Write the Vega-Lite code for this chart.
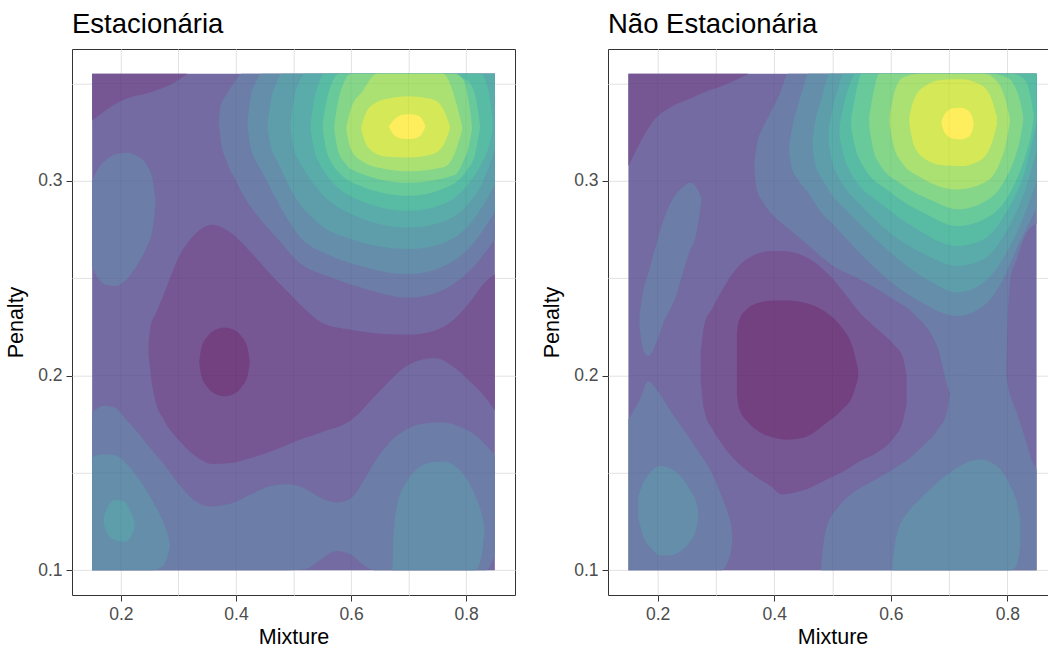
{
"$schema":"https://vega.github.io/schema/vega-lite/v6.json",
"background":"white",
"padding":{"left":5,"top":10,"right":0,"bottom":0},
"config":{"font":"Liberation Sans","view":{"stroke":"#333333","strokeWidth":1},
"axis":{"domain":false,"grid":true,"gridColor":"#ebebeb","gridWidth":1,"tickColor":"#333333","tickSize":6,"tickWidth":1,"labelColor":"#4d4d4d","labelFontSize":17.5,"labelFont":"Liberation Sans","labelPadding":4,"titleFont":"Liberation Sans","titleFontSize":21.5,"titleFontWeight":"normal","titleColor":"#000000"},
"axisX":{"titlePadding":4},"axisY":{"titlePadding":10}},
"spacing":93,
"bounds":"flush",
"datasets":{
"gx":[{"v":0.2},{"v":0.3},{"v":0.4},{"v":0.5},{"v":0.6},{"v":0.7},{"v":0.8}],
"gy":[{"v":0.1},{"v":0.15},{"v":0.2},{"v":0.25},{"v":0.3},{"v":0.35}],
"E":[
{"g":"e3","z":3,"x":0.15,"lo":0.1,"hi":0.355},{"g":"e3","z":3,"x":0.85,"lo":0.1,"hi":0.355},
{"g":"e2a","z":2,"x":0.15,"lo":0.331,"hi":0.355},{"g":"e2a","z":2,"x":0.2,"lo":0.341,"hi":0.355},{"g":"e2a","z":2,"x":0.257,"lo":0.346,"hi":0.355},{"g":"e2a","z":2,"x":0.29,"lo":0.35,"hi":0.355},{"g":"e2a","z":2,"x":0.315,"lo":0.355,"hi":0.355},
{"g":"e2b","z":2,"x":0.248,"lo":0.212,"hi":0.216},{"g":"e2b","z":2,"x":0.252,"lo":0.2,"hi":0.226},{"g":"e2b","z":2,"x":0.26,"lo":0.187,"hi":0.2315},{"g":"e2b","z":2,"x":0.275,"lo":0.177,"hi":0.242},{"g":"e2b","z":2,"x":0.3,"lo":0.167,"hi":0.2605},{"g":"e2b","z":2,"x":0.33,"lo":0.1585,"hi":0.273},{"g":"e2b","z":2,"x":0.36,"lo":0.1545,"hi":0.2775},{"g":"e2b","z":2,"x":0.39,"lo":0.155,"hi":0.2735},{"g":"e2b","z":2,"x":0.43,"lo":0.158,"hi":0.262},{"g":"e2b","z":2,"x":0.46,"lo":0.161,"hi":0.252},{"g":"e2b","z":2,"x":0.49,"lo":0.1645,"hi":0.243},{"g":"e2b","z":2,"x":0.52,"lo":0.168,"hi":0.234},{"g":"e2b","z":2,"x":0.55,"lo":0.171,"hi":0.227},{"g":"e2b","z":2,"x":0.6,"lo":0.177,"hi":0.2235},{"g":"e2b","z":2,"x":0.65,"lo":0.192,"hi":0.2215},{"g":"e2b","z":2,"x":0.7,"lo":0.2055,"hi":0.221},{"g":"e2b","z":2,"x":0.745,"lo":0.209,"hi":0.223},{"g":"e2b","z":2,"x":0.78,"lo":0.204,"hi":0.229},{"g":"e2b","z":2,"x":0.81,"lo":0.196,"hi":0.239},{"g":"e2b","z":2,"x":0.83,"lo":0.19,"hi":0.247},{"g":"e2b","z":2,"x":0.85,"lo":0.182,"hi":0.252},
{"g":"e1","z":1,"x":0.336,"lo":0.207,"hi":0.207},{"g":"e1","z":1,"x":0.34,"lo":0.1996,"hi":0.2144},{"g":"e1","z":1,"x":0.35,"lo":0.1941,"hi":0.2199},{"g":"e1","z":1,"x":0.365,"lo":0.1904,"hi":0.2236},{"g":"e1","z":1,"x":0.38,"lo":0.1893,"hi":0.2247},{"g":"e1","z":1,"x":0.395,"lo":0.1904,"hi":0.2236},{"g":"e1","z":1,"x":0.41,"lo":0.1941,"hi":0.2199},{"g":"e1","z":1,"x":0.42,"lo":0.1996,"hi":0.2144},{"g":"e1","z":1,"x":0.424,"lo":0.207,"hi":0.207},
{"g":"e4a","z":4,"x":0.15,"lo":0.256,"hi":0.3},{"g":"e4a","z":4,"x":0.16,"lo":0.25,"hi":0.306},{"g":"e4a","z":4,"x":0.175,"lo":0.2465,"hi":0.311},{"g":"e4a","z":4,"x":0.19,"lo":0.246,"hi":0.3135},{"g":"e4a","z":4,"x":0.21,"lo":0.2495,"hi":0.3145},{"g":"e4a","z":4,"x":0.23,"lo":0.2575,"hi":0.3125},{"g":"e4a","z":4,"x":0.245,"lo":0.266,"hi":0.308},{"g":"e4a","z":4,"x":0.255,"lo":0.275,"hi":0.301},{"g":"e4a","z":4,"x":0.26,"lo":0.288,"hi":0.29},
{"g":"e4b","z":4,"x":0.37,"lo":0.33,"hi":0.33},{"g":"e4b","z":4,"x":0.373,"lo":0.322,"hi":0.338},{"g":"e4b","z":4,"x":0.385,"lo":0.309,"hi":0.345},{"g":"e4b","z":4,"x":0.4,"lo":0.3,"hi":0.352},{"g":"e4b","z":4,"x":0.41,"lo":0.294,"hi":0.355},{"g":"e4b","z":4,"x":0.44,"lo":0.281,"hi":0.355},{"g":"e4b","z":4,"x":0.47,"lo":0.271,"hi":0.355},{"g":"e4b","z":4,"x":0.51,"lo":0.258,"hi":0.355},{"g":"e4b","z":4,"x":0.56,"lo":0.251,"hi":0.355},{"g":"e4b","z":4,"x":0.62,"lo":0.245,"hi":0.355},{"g":"e4b","z":4,"x":0.7,"lo":0.24,"hi":0.355},{"g":"e4b","z":4,"x":0.76,"lo":0.244,"hi":0.355},{"g":"e4b","z":4,"x":0.81,"lo":0.255,"hi":0.355},{"g":"e4b","z":4,"x":0.85,"lo":0.27,"hi":0.355},
{"g":"e4c","z":4,"x":0.15,"lo":0.1,"hi":0.181},{"g":"e4c","z":4,"x":0.17,"lo":0.1,"hi":0.1845},{"g":"e4c","z":4,"x":0.19,"lo":0.1,"hi":0.1835},{"g":"e4c","z":4,"x":0.21,"lo":0.1,"hi":0.177},{"g":"e4c","z":4,"x":0.23,"lo":0.1,"hi":0.1705},{"g":"e4c","z":4,"x":0.25,"lo":0.1,"hi":0.163},{"g":"e4c","z":4,"x":0.275,"lo":0.1,"hi":0.1543},{"g":"e4c","z":4,"x":0.3,"lo":0.1,"hi":0.1445},{"g":"e4c","z":4,"x":0.325,"lo":0.1,"hi":0.1365},{"g":"e4c","z":4,"x":0.355,"lo":0.1,"hi":0.1327},{"g":"e4c","z":4,"x":0.38,"lo":0.1,"hi":0.1335},{"g":"e4c","z":4,"x":0.4,"lo":0.1,"hi":0.1352},{"g":"e4c","z":4,"x":0.43,"lo":0.1,"hi":0.1395},{"g":"e4c","z":4,"x":0.46,"lo":0.1,"hi":0.1432},{"g":"e4c","z":4,"x":0.49,"lo":0.1,"hi":0.1442},{"g":"e4c","z":4,"x":0.52,"lo":0.1005,"hi":0.142},{"g":"e4c","z":4,"x":0.545,"lo":0.105,"hi":0.1375},{"g":"e4c","z":4,"x":0.575,"lo":0.1098,"hi":0.1348},{"g":"e4c","z":4,"x":0.6,"lo":0.108,"hi":0.137},{"g":"e4c","z":4,"x":0.62,"lo":0.103,"hi":0.145},{"g":"e4c","z":4,"x":0.64,"lo":0.1,"hi":0.155},{"g":"e4c","z":4,"x":0.665,"lo":0.1,"hi":0.165},{"g":"e4c","z":4,"x":0.69,"lo":0.1,"hi":0.1712},{"g":"e4c","z":4,"x":0.72,"lo":0.1,"hi":0.175},{"g":"e4c","z":4,"x":0.76,"lo":0.1,"hi":0.176},{"g":"e4c","z":4,"x":0.79,"lo":0.1,"hi":0.1735},{"g":"e4c","z":4,"x":0.82,"lo":0.1,"hi":0.1685},{"g":"e4c","z":4,"x":0.835,"lo":0.1,"hi":0.164},{"g":"e4c","z":4,"x":0.85,"lo":0.108,"hi":0.159},
{"g":"e5a","z":5,"x":0.42,"lo":0.328,"hi":0.33},{"g":"e5a","z":5,"x":0.425,"lo":0.318,"hi":0.342},{"g":"e5a","z":5,"x":0.435,"lo":0.31,"hi":0.351},{"g":"e5a","z":5,"x":0.445,"lo":0.305,"hi":0.355},{"g":"e5a","z":5,"x":0.47,"lo":0.2905,"hi":0.355},{"g":"e5a","z":5,"x":0.51,"lo":0.2715,"hi":0.355},{"g":"e5a","z":5,"x":0.56,"lo":0.262,"hi":0.355},{"g":"e5a","z":5,"x":0.62,"lo":0.256,"hi":0.355},{"g":"e5a","z":5,"x":0.7,"lo":0.252,"hi":0.355},{"g":"e5a","z":5,"x":0.76,"lo":0.256,"hi":0.355},{"g":"e5a","z":5,"x":0.81,"lo":0.267,"hi":0.355},{"g":"e5a","z":5,"x":0.85,"lo":0.284,"hi":0.355},
{"g":"e5b","z":5,"x":0.15,"lo":0.1,"hi":0.158},{"g":"e5b","z":5,"x":0.17,"lo":0.1,"hi":0.1595},{"g":"e5b","z":5,"x":0.19,"lo":0.1,"hi":0.159},{"g":"e5b","z":5,"x":0.21,"lo":0.1,"hi":0.1545},{"g":"e5b","z":5,"x":0.235,"lo":0.1,"hi":0.145},{"g":"e5b","z":5,"x":0.255,"lo":0.1,"hi":0.1355},{"g":"e5b","z":5,"x":0.27,"lo":0.1015,"hi":0.127},{"g":"e5b","z":5,"x":0.28,"lo":0.106,"hi":0.1195},{"g":"e5b","z":5,"x":0.285,"lo":0.112,"hi":0.1135},
{"g":"e5c","z":5,"x":0.672,"lo":0.1,"hi":0.1},{"g":"e5c","z":5,"x":0.674,"lo":0.1,"hi":0.118},{"g":"e5c","z":5,"x":0.68,"lo":0.1,"hi":0.133},{"g":"e5c","z":5,"x":0.695,"lo":0.1,"hi":0.1445},{"g":"e5c","z":5,"x":0.715,"lo":0.1,"hi":0.152},{"g":"e5c","z":5,"x":0.74,"lo":0.1,"hi":0.1555},{"g":"e5c","z":5,"x":0.76,"lo":0.1,"hi":0.1558},{"g":"e5c","z":5,"x":0.785,"lo":0.1,"hi":0.1525},{"g":"e5c","z":5,"x":0.805,"lo":0.1,"hi":0.145},{"g":"e5c","z":5,"x":0.816,"lo":0.1,"hi":0.138},{"g":"e5c","z":5,"x":0.826,"lo":0.106,"hi":0.13},{"g":"e5c","z":5,"x":0.832,"lo":0.12,"hi":0.122},
{"g":"e6a","z":6,"x":0.455,"lo":0.327,"hi":0.329},{"g":"e6a","z":6,"x":0.46,"lo":0.318,"hi":0.34},{"g":"e6a","z":6,"x":0.47,"lo":0.311,"hi":0.35},{"g":"e6a","z":6,"x":0.48,"lo":0.305,"hi":0.355},{"g":"e6a","z":6,"x":0.5,"lo":0.293,"hi":0.355},{"g":"e6a","z":6,"x":0.54,"lo":0.279,"hi":0.355},{"g":"e6a","z":6,"x":0.6,"lo":0.27,"hi":0.355},{"g":"e6a","z":6,"x":0.7,"lo":0.265,"hi":0.355},{"g":"e6a","z":6,"x":0.76,"lo":0.268,"hi":0.355},{"g":"e6a","z":6,"x":0.81,"lo":0.279,"hi":0.355},{"g":"e6a","z":6,"x":0.85,"lo":0.298,"hi":0.355},
{"g":"e6b","z":6,"x":0.17,"lo":0.124,"hi":0.127},{"g":"e6b","z":6,"x":0.178,"lo":0.118,"hi":0.133},{"g":"e6b","z":6,"x":0.19,"lo":0.1155,"hi":0.136},{"g":"e6b","z":6,"x":0.205,"lo":0.1145,"hi":0.1355},{"g":"e6b","z":6,"x":0.215,"lo":0.116,"hi":0.131},{"g":"e6b","z":6,"x":0.224,"lo":0.122,"hi":0.125},
{"g":"e7","z":7,"x":0.495,"lo":0.326,"hi":0.33},{"g":"e7","z":7,"x":0.5,"lo":0.317,"hi":0.341},{"g":"e7","z":7,"x":0.51,"lo":0.31,"hi":0.351},{"g":"e7","z":7,"x":0.52,"lo":0.305,"hi":0.355},{"g":"e7","z":7,"x":0.55,"lo":0.293,"hi":0.355},{"g":"e7","z":7,"x":0.6,"lo":0.283,"hi":0.355},{"g":"e7","z":7,"x":0.7,"lo":0.276,"hi":0.355},{"g":"e7","z":7,"x":0.76,"lo":0.279,"hi":0.355},{"g":"e7","z":7,"x":0.8,"lo":0.287,"hi":0.355},{"g":"e7","z":7,"x":0.83,"lo":0.3,"hi":0.355},{"g":"e7","z":7,"x":0.85,"lo":0.316,"hi":0.355},
{"g":"e8","z":8,"x":0.53,"lo":0.326,"hi":0.33},{"g":"e8","z":8,"x":0.535,"lo":0.317,"hi":0.34},{"g":"e8","z":8,"x":0.545,"lo":0.309,"hi":0.351},{"g":"e8","z":8,"x":0.555,"lo":0.304,"hi":0.355},{"g":"e8","z":8,"x":0.6,"lo":0.292,"hi":0.355},{"g":"e8","z":8,"x":0.7,"lo":0.2846,"hi":0.355},{"g":"e8","z":8,"x":0.76,"lo":0.288,"hi":0.355},{"g":"e8","z":8,"x":0.8,"lo":0.297,"hi":0.355},{"g":"e8","z":8,"x":0.825,"lo":0.308,"hi":0.355},{"g":"e8","z":8,"x":0.84,"lo":0.318,"hi":0.345},{"g":"e8","z":8,"x":0.846,"lo":0.326,"hi":0.332},
{"g":"e9","z":9,"x":0.551,"lo":0.326,"hi":0.33},{"g":"e9","z":9,"x":0.556,"lo":0.317,"hi":0.339},{"g":"e9","z":9,"x":0.565,"lo":0.31,"hi":0.349},{"g":"e9","z":9,"x":0.58,"lo":0.304,"hi":0.355},{"g":"e9","z":9,"x":0.62,"lo":0.297,"hi":0.355},{"g":"e9","z":9,"x":0.7,"lo":0.2923,"hi":0.355},{"g":"e9","z":9,"x":0.76,"lo":0.296,"hi":0.355},{"g":"e9","z":9,"x":0.8,"lo":0.305,"hi":0.352},{"g":"e9","z":9,"x":0.815,"lo":0.313,"hi":0.345},{"g":"e9","z":9,"x":0.824,"lo":0.327,"hi":0.329},
{"g":"e10","z":10,"x":0.571,"lo":0.326,"hi":0.329},{"g":"e10","z":10,"x":0.577,"lo":0.316,"hi":0.34},{"g":"e10","z":10,"x":0.59,"lo":0.309,"hi":0.352},{"g":"e10","z":10,"x":0.6,"lo":0.306,"hi":0.355},{"g":"e10","z":10,"x":0.7,"lo":0.299,"hi":0.355},{"g":"e10","z":10,"x":0.78,"lo":0.303,"hi":0.355},{"g":"e10","z":10,"x":0.795,"lo":0.31,"hi":0.352},{"g":"e10","z":10,"x":0.805,"lo":0.318,"hi":0.34},{"g":"e10","z":10,"x":0.81,"lo":0.326,"hi":0.329},
{"g":"e11","z":11,"x":0.592,"lo":0.326,"hi":0.328},{"g":"e11","z":11,"x":0.6,"lo":0.316,"hi":0.337},{"g":"e11","z":11,"x":0.62,"lo":0.31,"hi":0.346},{"g":"e11","z":11,"x":0.645,"lo":0.307,"hi":0.355},{"g":"e11","z":11,"x":0.7,"lo":0.305,"hi":0.355},{"g":"e11","z":11,"x":0.76,"lo":0.307,"hi":0.355},{"g":"e11","z":11,"x":0.78,"lo":0.314,"hi":0.343},{"g":"e11","z":11,"x":0.793,"lo":0.326,"hi":0.328},
{"g":"e12","z":12,"x":0.618,"lo":0.326,"hi":0.328},{"g":"e12","z":12,"x":0.63,"lo":0.317,"hi":0.337},{"g":"e12","z":12,"x":0.66,"lo":0.3125,"hi":0.342},{"g":"e12","z":12,"x":0.7,"lo":0.312,"hi":0.3435},{"g":"e12","z":12,"x":0.74,"lo":0.3135,"hi":0.342},{"g":"e12","z":12,"x":0.76,"lo":0.318,"hi":0.337},{"g":"e12","z":12,"x":0.772,"lo":0.327,"hi":0.328},
{"g":"e13","z":13,"x":0.666,"lo":0.3275,"hi":0.328},{"g":"e13","z":13,"x":0.675,"lo":0.3235,"hi":0.3315},{"g":"e13","z":13,"x":0.69,"lo":0.3217,"hi":0.334},{"g":"e13","z":13,"x":0.705,"lo":0.3215,"hi":0.3342},{"g":"e13","z":13,"x":0.72,"lo":0.323,"hi":0.333},{"g":"e13","z":13,"x":0.729,"lo":0.3275,"hi":0.3285}
],
"N":[
{"g":"n3","z":3,"x":0.15,"lo":0.1,"hi":0.355},{"g":"n3","z":3,"x":0.85,"lo":0.1,"hi":0.355},
{"g":"n2a","z":2,"x":0.15,"lo":0.3076,"hi":0.355},{"g":"n2a","z":2,"x":0.156,"lo":0.3113,"hi":0.355},{"g":"n2a","z":2,"x":0.173,"lo":0.3213,"hi":0.355},{"g":"n2a","z":2,"x":0.195,"lo":0.3316,"hi":0.355},{"g":"n2a","z":2,"x":0.22,"lo":0.3375,"hi":0.355},{"g":"n2a","z":2,"x":0.253,"lo":0.3419,"hi":0.355},{"g":"n2a","z":2,"x":0.28,"lo":0.3455,"hi":0.355},{"g":"n2a","z":2,"x":0.31,"lo":0.3487,"hi":0.355},{"g":"n2a","z":2,"x":0.335,"lo":0.352,"hi":0.355},{"g":"n2a","z":2,"x":0.356,"lo":0.355,"hi":0.355},
{"g":"n2b","z":2,"x":0.274,"lo":0.198,"hi":0.212},{"g":"n2b","z":2,"x":0.28,"lo":0.182,"hi":0.226},{"g":"n2b","z":2,"x":0.295,"lo":0.172,"hi":0.235},{"g":"n2b","z":2,"x":0.31,"lo":0.165,"hi":0.2435},{"g":"n2b","z":2,"x":0.34,"lo":0.1545,"hi":0.2565},{"g":"n2b","z":2,"x":0.367,"lo":0.1483,"hi":0.262},{"g":"n2b","z":2,"x":0.395,"lo":0.143,"hi":0.264},{"g":"n2b","z":2,"x":0.413,"lo":0.1389,"hi":0.264},{"g":"n2b","z":2,"x":0.45,"lo":0.141,"hi":0.2615},{"g":"n2b","z":2,"x":0.49,"lo":0.1466,"hi":0.2529},{"g":"n2b","z":2,"x":0.52,"lo":0.151,"hi":0.2425},{"g":"n2b","z":2,"x":0.547,"lo":0.156,"hi":0.2322},{"g":"n2b","z":2,"x":0.576,"lo":0.1603,"hi":0.224},{"g":"n2b","z":2,"x":0.605,"lo":0.168,"hi":0.216},{"g":"n2b","z":2,"x":0.62,"lo":0.176,"hi":0.21},{"g":"n2b","z":2,"x":0.627,"lo":0.185,"hi":0.2},
{"g":"n1","z":1,"x":0.336,"lo":0.19,"hi":0.222},{"g":"n1","z":1,"x":0.34,"lo":0.183,"hi":0.2285},{"g":"n1","z":1,"x":0.355,"lo":0.176,"hi":0.2345},{"g":"n1","z":1,"x":0.375,"lo":0.171,"hi":0.2375},{"g":"n1","z":1,"x":0.4,"lo":0.168,"hi":0.2385},{"g":"n1","z":1,"x":0.42,"lo":0.167,"hi":0.2385},{"g":"n1","z":1,"x":0.45,"lo":0.168,"hi":0.2375},{"g":"n1","z":1,"x":0.49,"lo":0.1757,"hi":0.2322},{"g":"n1","z":1,"x":0.515,"lo":0.182,"hi":0.225},{"g":"n1","z":1,"x":0.535,"lo":0.19,"hi":0.214},{"g":"n1","z":1,"x":0.544,"lo":0.199,"hi":0.203},
{"g":"n4a","z":4,"x":0.366,"lo":0.306,"hi":0.309},{"g":"n4a","z":4,"x":0.37,"lo":0.296,"hi":0.318},{"g":"n4a","z":4,"x":0.38,"lo":0.2895,"hi":0.327},{"g":"n4a","z":4,"x":0.39,"lo":0.285,"hi":0.333},{"g":"n4a","z":4,"x":0.41,"lo":0.279,"hi":0.345},{"g":"n4a","z":4,"x":0.424,"lo":0.2755,"hi":0.355},{"g":"n4a","z":4,"x":0.46,"lo":0.2665,"hi":0.355},{"g":"n4a","z":4,"x":0.5,"lo":0.2565,"hi":0.355},{"g":"n4a","z":4,"x":0.55,"lo":0.249,"hi":0.355},{"g":"n4a","z":4,"x":0.6,"lo":0.24,"hi":0.355},{"g":"n4a","z":4,"x":0.64,"lo":0.2315,"hi":0.355},{"g":"n4a","z":4,"x":0.68,"lo":0.2145,"hi":0.355},{"g":"n4a","z":4,"x":0.705,"lo":0.19,"hi":0.355},{"g":"n4a","z":4,"x":0.75,"lo":0.19,"hi":0.355},{"g":"n4a","z":4,"x":0.797,"lo":0.195,"hi":0.355},{"g":"n4a","z":4,"x":0.8,"lo":0.225,"hi":0.355},{"g":"n4a","z":4,"x":0.805,"lo":0.25,"hi":0.355},{"g":"n4a","z":4,"x":0.815,"lo":0.259,"hi":0.355},{"g":"n4a","z":4,"x":0.833,"lo":0.2734,"hi":0.355},{"g":"n4a","z":4,"x":0.85,"lo":0.278,"hi":0.355},
{"g":"n4b","z":4,"x":0.48,"lo":0.1,"hi":0.1},{"g":"n4b","z":4,"x":0.483,"lo":0.1,"hi":0.11},{"g":"n4b","z":4,"x":0.49,"lo":0.1,"hi":0.122},{"g":"n4b","z":4,"x":0.51,"lo":0.1,"hi":0.1325},{"g":"n4b","z":4,"x":0.536,"lo":0.1,"hi":0.14},{"g":"n4b","z":4,"x":0.57,"lo":0.1,"hi":0.146},{"g":"n4b","z":4,"x":0.604,"lo":0.1,"hi":0.152},{"g":"n4b","z":4,"x":0.63,"lo":0.1,"hi":0.157},{"g":"n4b","z":4,"x":0.656,"lo":0.1,"hi":0.164},{"g":"n4b","z":4,"x":0.68,"lo":0.1,"hi":0.172},{"g":"n4b","z":4,"x":0.696,"lo":0.1,"hi":0.181},{"g":"n4b","z":4,"x":0.705,"lo":0.1,"hi":0.195},{"g":"n4b","z":4,"x":0.75,"lo":0.1,"hi":0.2},{"g":"n4b","z":4,"x":0.797,"lo":0.1,"hi":0.2},{"g":"n4b","z":4,"x":0.802,"lo":0.1,"hi":0.193},{"g":"n4b","z":4,"x":0.816,"lo":0.1,"hi":0.181},{"g":"n4b","z":4,"x":0.83,"lo":0.1,"hi":0.168},{"g":"n4b","z":4,"x":0.844,"lo":0.1,"hi":0.155},{"g":"n4b","z":4,"x":0.85,"lo":0.1,"hi":0.152},
{"g":"n4c","z":4,"x":0.169,"lo":0.225,"hi":0.231},{"g":"n4c","z":4,"x":0.1754,"lo":0.2134,"hi":0.2435},{"g":"n4c","z":4,"x":0.184,"lo":0.21,"hi":0.2525},{"g":"n4c","z":4,"x":0.1954,"lo":0.2151,"hi":0.2648},{"g":"n4c","z":4,"x":0.2126,"lo":0.229,"hi":0.2819},{"g":"n4c","z":4,"x":0.2297,"lo":0.2392,"hi":0.2925},{"g":"n4c","z":4,"x":0.2469,"lo":0.2563,"hi":0.2975},{"g":"n4c","z":4,"x":0.2554,"lo":0.264,"hi":0.299},{"g":"n4c","z":4,"x":0.2669,"lo":0.2734,"hi":0.2965},{"g":"n4c","z":4,"x":0.2755,"lo":0.2905,"hi":0.291},
{"g":"n4d","z":4,"x":0.15,"lo":0.1,"hi":0.1775},{"g":"n4d","z":4,"x":0.17,"lo":0.1,"hi":0.188},{"g":"n4d","z":4,"x":0.184,"lo":0.1,"hi":0.197},{"g":"n4d","z":4,"x":0.2,"lo":0.1,"hi":0.192},{"g":"n4d","z":4,"x":0.224,"lo":0.1,"hi":0.181},{"g":"n4d","z":4,"x":0.245,"lo":0.1,"hi":0.172},{"g":"n4d","z":4,"x":0.264,"lo":0.1,"hi":0.1637},{"g":"n4d","z":4,"x":0.2983,"lo":0.1,"hi":0.1466},{"g":"n4d","z":4,"x":0.31,"lo":0.1,"hi":0.138},{"g":"n4d","z":4,"x":0.32,"lo":0.104,"hi":0.13},{"g":"n4d","z":4,"x":0.327,"lo":0.112,"hi":0.121},{"g":"n4d","z":4,"x":0.328,"lo":0.116,"hi":0.117},
{"g":"n5a","z":5,"x":0.426,"lo":0.314,"hi":0.318},{"g":"n5a","z":5,"x":0.43,"lo":0.307,"hi":0.326},{"g":"n5a","z":5,"x":0.44,"lo":0.301,"hi":0.338},{"g":"n5a","z":5,"x":0.45,"lo":0.297,"hi":0.348},{"g":"n5a","z":5,"x":0.458,"lo":0.294,"hi":0.355},{"g":"n5a","z":5,"x":0.48,"lo":0.284,"hi":0.355},{"g":"n5a","z":5,"x":0.5,"lo":0.278,"hi":0.355},{"g":"n5a","z":5,"x":0.55,"lo":0.262,"hi":0.355},{"g":"n5a","z":5,"x":0.6,"lo":0.248,"hi":0.355},{"g":"n5a","z":5,"x":0.65,"lo":0.238,"hi":0.355},{"g":"n5a","z":5,"x":0.713,"lo":0.2306,"hi":0.355},{"g":"n5a","z":5,"x":0.76,"lo":0.236,"hi":0.355},{"g":"n5a","z":5,"x":0.79,"lo":0.248,"hi":0.355},{"g":"n5a","z":5,"x":0.82,"lo":0.268,"hi":0.355},{"g":"n5a","z":5,"x":0.85,"lo":0.286,"hi":0.355},
{"g":"n5b","z":5,"x":0.167,"lo":0.127,"hi":0.138},{"g":"n5b","z":5,"x":0.175,"lo":0.118,"hi":0.1445},{"g":"n5b","z":5,"x":0.19,"lo":0.111,"hi":0.151},{"g":"n5b","z":5,"x":0.205,"lo":0.1075,"hi":0.1535},{"g":"n5b","z":5,"x":0.22,"lo":0.1075,"hi":0.1525},{"g":"n5b","z":5,"x":0.24,"lo":0.11,"hi":0.148},{"g":"n5b","z":5,"x":0.255,"lo":0.1145,"hi":0.1415},{"g":"n5b","z":5,"x":0.265,"lo":0.12,"hi":0.136},{"g":"n5b","z":5,"x":0.27,"lo":0.128,"hi":0.13},
{"g":"n5c","z":5,"x":0.603,"lo":0.1,"hi":0.104},{"g":"n5c","z":5,"x":0.61,"lo":0.1,"hi":0.118},{"g":"n5c","z":5,"x":0.63,"lo":0.1,"hi":0.13},{"g":"n5c","z":5,"x":0.65,"lo":0.1,"hi":0.1364},{"g":"n5c","z":5,"x":0.68,"lo":0.1,"hi":0.145},{"g":"n5c","z":5,"x":0.71,"lo":0.1,"hi":0.152},{"g":"n5c","z":5,"x":0.753,"lo":0.1,"hi":0.1569},{"g":"n5c","z":5,"x":0.78,"lo":0.1,"hi":0.154},{"g":"n5c","z":5,"x":0.805,"lo":0.1,"hi":0.1432},{"g":"n5c","z":5,"x":0.815,"lo":0.102,"hi":0.136},{"g":"n5c","z":5,"x":0.822,"lo":0.112,"hi":0.126},
{"g":"n6","z":6,"x":0.466,"lo":0.317,"hi":0.322},{"g":"n6","z":6,"x":0.47,"lo":0.309,"hi":0.33},{"g":"n6","z":6,"x":0.48,"lo":0.302,"hi":0.341},{"g":"n6","z":6,"x":0.49,"lo":0.297,"hi":0.352},{"g":"n6","z":6,"x":0.495,"lo":0.2945,"hi":0.355},{"g":"n6","z":6,"x":0.52,"lo":0.286,"hi":0.355},{"g":"n6","z":6,"x":0.56,"lo":0.274,"hi":0.355},{"g":"n6","z":6,"x":0.62,"lo":0.258,"hi":0.355},{"g":"n6","z":6,"x":0.67,"lo":0.248,"hi":0.355},{"g":"n6","z":6,"x":0.713,"lo":0.2426,"hi":0.355},{"g":"n6","z":6,"x":0.76,"lo":0.248,"hi":0.355},{"g":"n6","z":6,"x":0.8,"lo":0.264,"hi":0.355},{"g":"n6","z":6,"x":0.83,"lo":0.283,"hi":0.355},{"g":"n6","z":6,"x":0.85,"lo":0.3,"hi":0.355},
{"g":"n7","z":7,"x":0.493,"lo":0.32,"hi":0.326},{"g":"n7","z":7,"x":0.5,"lo":0.309,"hi":0.337},{"g":"n7","z":7,"x":0.51,"lo":0.302,"hi":0.348},{"g":"n7","z":7,"x":0.52,"lo":0.297,"hi":0.355},{"g":"n7","z":7,"x":0.55,"lo":0.287,"hi":0.355},{"g":"n7","z":7,"x":0.6,"lo":0.273,"hi":0.355},{"g":"n7","z":7,"x":0.66,"lo":0.262,"hi":0.355},{"g":"n7","z":7,"x":0.713,"lo":0.2563,"hi":0.355},{"g":"n7","z":7,"x":0.76,"lo":0.26,"hi":0.355},{"g":"n7","z":7,"x":0.8,"lo":0.275,"hi":0.355},{"g":"n7","z":7,"x":0.83,"lo":0.295,"hi":0.355},{"g":"n7","z":7,"x":0.85,"lo":0.315,"hi":0.355},
{"g":"n8","z":8,"x":0.512,"lo":0.323,"hi":0.328},{"g":"n8","z":8,"x":0.52,"lo":0.312,"hi":0.34},{"g":"n8","z":8,"x":0.53,"lo":0.305,"hi":0.35},{"g":"n8","z":8,"x":0.54,"lo":0.3,"hi":0.355},{"g":"n8","z":8,"x":0.58,"lo":0.289,"hi":0.355},{"g":"n8","z":8,"x":0.64,"lo":0.276,"hi":0.355},{"g":"n8","z":8,"x":0.713,"lo":0.2665,"hi":0.355},{"g":"n8","z":8,"x":0.76,"lo":0.27,"hi":0.355},{"g":"n8","z":8,"x":0.8,"lo":0.285,"hi":0.355},{"g":"n8","z":8,"x":0.83,"lo":0.305,"hi":0.355},{"g":"n8","z":8,"x":0.85,"lo":0.33,"hi":0.355},
{"g":"n9","z":9,"x":0.532,"lo":0.327,"hi":0.332},{"g":"n9","z":9,"x":0.54,"lo":0.316,"hi":0.345},{"g":"n9","z":9,"x":0.55,"lo":0.309,"hi":0.355},{"g":"n9","z":9,"x":0.6,"lo":0.294,"hi":0.355},{"g":"n9","z":9,"x":0.66,"lo":0.283,"hi":0.355},{"g":"n9","z":9,"x":0.713,"lo":0.2768,"hi":0.355},{"g":"n9","z":9,"x":0.77,"lo":0.282,"hi":0.355},{"g":"n9","z":9,"x":0.81,"lo":0.297,"hi":0.355},{"g":"n9","z":9,"x":0.83,"lo":0.312,"hi":0.352},{"g":"n9","z":9,"x":0.84,"lo":0.323,"hi":0.343},{"g":"n9","z":9,"x":0.845,"lo":0.332,"hi":0.334},
{"g":"n10","z":10,"x":0.563,"lo":0.328,"hi":0.333},{"g":"n10","z":10,"x":0.57,"lo":0.316,"hi":0.345},{"g":"n10","z":10,"x":0.58,"lo":0.309,"hi":0.355},{"g":"n10","z":10,"x":0.62,"lo":0.298,"hi":0.355},{"g":"n10","z":10,"x":0.67,"lo":0.29,"hi":0.355},{"g":"n10","z":10,"x":0.713,"lo":0.2854,"hi":0.355},{"g":"n10","z":10,"x":0.77,"lo":0.291,"hi":0.355},{"g":"n10","z":10,"x":0.8,"lo":0.303,"hi":0.353},{"g":"n10","z":10,"x":0.815,"lo":0.314,"hi":0.347},{"g":"n10","z":10,"x":0.824,"lo":0.325,"hi":0.338},{"g":"n10","z":10,"x":0.827,"lo":0.331,"hi":0.333},
{"g":"n11","z":11,"x":0.598,"lo":0.329,"hi":0.333},{"g":"n11","z":11,"x":0.605,"lo":0.318,"hi":0.344},{"g":"n11","z":11,"x":0.62,"lo":0.309,"hi":0.353},{"g":"n11","z":11,"x":0.65,"lo":0.302,"hi":0.355},{"g":"n11","z":11,"x":0.713,"lo":0.2956,"hi":0.355},{"g":"n11","z":11,"x":0.76,"lo":0.299,"hi":0.355},{"g":"n11","z":11,"x":0.785,"lo":0.308,"hi":0.35},{"g":"n11","z":11,"x":0.798,"lo":0.32,"hi":0.34},{"g":"n11","z":11,"x":0.804,"lo":0.33,"hi":0.332},
{"g":"n12","z":12,"x":0.632,"lo":0.329,"hi":0.333},{"g":"n12","z":12,"x":0.64,"lo":0.318,"hi":0.342},{"g":"n12","z":12,"x":0.66,"lo":0.311,"hi":0.349},{"g":"n12","z":12,"x":0.69,"lo":0.308,"hi":0.352},{"g":"n12","z":12,"x":0.72,"lo":0.3076,"hi":0.3522},{"g":"n12","z":12,"x":0.75,"lo":0.31,"hi":0.35},{"g":"n12","z":12,"x":0.77,"lo":0.317,"hi":0.344},{"g":"n12","z":12,"x":0.782,"lo":0.329,"hi":0.333},
{"g":"n13","z":13,"x":0.687,"lo":0.329,"hi":0.331},{"g":"n13","z":13,"x":0.693,"lo":0.3245,"hi":0.3345},{"g":"n13","z":13,"x":0.705,"lo":0.3218,"hi":0.3372},{"g":"n13","z":13,"x":0.72,"lo":0.3213,"hi":0.3376},{"g":"n13","z":13,"x":0.733,"lo":0.3225,"hi":0.336},{"g":"n13","z":13,"x":0.74,"lo":0.326,"hi":0.3325},{"g":"n13","z":13,"x":0.742,"lo":0.329,"hi":0.33}
]
},
"hconcat":[
{"width":443,"height":546,
"title":{"text":"Estacionária","anchor":"start","frame":"group","fontSize":27.5,"fontWeight":"normal","font":"Liberation Sans","color":"#000000","offset":10},
"layer":[
{"data":{"name":"E"},
"encoding":{
"x":{"field":"x","type":"quantitative","scale":{"domain":[0.115,0.885],"nice":false,"zero":false},"axis":{"title":"Mixture","values":[0.2,0.3,0.4,0.5,0.6,0.7,0.8],"format":".1f","labelOverlap":false,"labelFlush":false,"tickOpacity":{"condition":{"test":"datum.value==0.3||datum.value==0.5||datum.value==0.7","value":0},"value":1},"labelOpacity":{"condition":{"test":"datum.value==0.3||datum.value==0.5||datum.value==0.7","value":0},"value":1}}},
"y":{"field":"lo","type":"quantitative","stack":null,"scale":{"domain":[0.08725,0.36775],"nice":false,"zero":false},"axis":{"title":"Penalty","values":[0.1,0.15,0.2,0.25,0.3,0.35],"format":".1f","labelOverlap":false,"labelFlush":false,"tickOpacity":{"condition":{"test":"datum.value==0.15||datum.value==0.25||datum.value==0.35","value":0},"value":1},"labelOpacity":{"condition":{"test":"datum.value==0.15||datum.value==0.25||datum.value==0.35","value":0},"value":1}}},
"y2":{"field":"hi"},
"color":{"field":"z","type":"ordinal","scale":{"domain":[1,2,3,4,5,6,7,8,9,10,11,12,13],"range":["#73417f","#765794","#736ba2","#6c7da8","#658eaa","#5e9daa","#59aca9","#58bba4","#68c99b","#86d68a","#abe173","#d5e858","#feed5c"]},"legend":null},
"detail":{"field":"g"}},
"layer":[
{"transform":[{"filter":"datum.z==3"}],"mark":{"type":"area","interpolate":"monotone"}},
{"transform":[{"filter":"datum.z==4"}],"mark":{"type":"area","interpolate":"monotone"}},
{"transform":[{"filter":"datum.z==2"}],"mark":{"type":"area","interpolate":"monotone"}},
{"transform":[{"filter":"datum.z==1"}],"mark":{"type":"area","interpolate":"monotone"}},
{"transform":[{"filter":"datum.z==5"}],"mark":{"type":"area","interpolate":"monotone"}},
{"transform":[{"filter":"datum.z==6"}],"mark":{"type":"area","interpolate":"monotone"}},
{"transform":[{"filter":"datum.z==7"}],"mark":{"type":"area","interpolate":"monotone"}},
{"transform":[{"filter":"datum.z==8"}],"mark":{"type":"area","interpolate":"monotone"}},
{"transform":[{"filter":"datum.z==9"}],"mark":{"type":"area","interpolate":"monotone"}},
{"transform":[{"filter":"datum.z==10"}],"mark":{"type":"area","interpolate":"monotone"}},
{"transform":[{"filter":"datum.z==11"}],"mark":{"type":"area","interpolate":"monotone"}},
{"transform":[{"filter":"datum.z==12"}],"mark":{"type":"area","interpolate":"monotone"}},
{"transform":[{"filter":"datum.z==13"}],"mark":{"type":"area","interpolate":"monotone"}}
]},
{"data":{"name":"gx"},"mark":{"type":"rule","color":"#000000","opacity":0.04,"strokeWidth":1},"encoding":{"x":{"field":"v","type":"quantitative","scale":{"domain":[0.115,0.885],"nice":false,"zero":false},"axis":{"title":"Mixture","values":[0.2,0.3,0.4,0.5,0.6,0.7,0.8],"format":".1f","labelOverlap":false,"labelFlush":false,"tickOpacity":{"condition":{"test":"datum.value==0.3||datum.value==0.5||datum.value==0.7","value":0},"value":1},"labelOpacity":{"condition":{"test":"datum.value==0.3||datum.value==0.5||datum.value==0.7","value":0},"value":1}}}}},
{"data":{"name":"gy"},"mark":{"type":"rule","color":"#000000","opacity":0.04,"strokeWidth":1},"encoding":{"y":{"field":"v","type":"quantitative","scale":{"domain":[0.08725,0.36775],"nice":false,"zero":false},"axis":{"title":"Penalty","values":[0.1,0.15,0.2,0.25,0.3,0.35],"format":".1f","labelOverlap":false,"labelFlush":false,"tickOpacity":{"condition":{"test":"datum.value==0.15||datum.value==0.25||datum.value==0.35","value":0},"value":1},"labelOpacity":{"condition":{"test":"datum.value==0.15||datum.value==0.25||datum.value==0.35","value":0},"value":1}}}}}
]},
{"width":449,"height":546,
"title":{"text":"Não Estacionária","anchor":"start","frame":"group","fontSize":27.5,"fontWeight":"normal","font":"Liberation Sans","color":"#000000","offset":10},
"layer":[
{"data":{"name":"N"},
"encoding":{
"x":{"field":"x","type":"quantitative","scale":{"domain":[0.115,0.885],"nice":false,"zero":false},"axis":{"title":"Mixture","values":[0.2,0.3,0.4,0.5,0.6,0.7,0.8],"format":".1f","labelOverlap":false,"labelFlush":false,"tickOpacity":{"condition":{"test":"datum.value==0.3||datum.value==0.5||datum.value==0.7","value":0},"value":1},"labelOpacity":{"condition":{"test":"datum.value==0.3||datum.value==0.5||datum.value==0.7","value":0},"value":1}}},
"y":{"field":"lo","type":"quantitative","stack":null,"scale":{"domain":[0.08725,0.36775],"nice":false,"zero":false},"axis":{"title":"Penalty","values":[0.1,0.15,0.2,0.25,0.3,0.35],"format":".1f","labelOverlap":false,"labelFlush":false,"tickOpacity":{"condition":{"test":"datum.value==0.15||datum.value==0.25||datum.value==0.35","value":0},"value":1},"labelOpacity":{"condition":{"test":"datum.value==0.15||datum.value==0.25||datum.value==0.35","value":0},"value":1}}},
"y2":{"field":"hi"},
"color":{"field":"z","type":"ordinal","scale":{"domain":[1,2,3,4,5,6,7,8,9,10,11,12,13],"range":["#73417f","#765794","#736ba2","#6c7da8","#658eaa","#5e9daa","#59aca9","#58bba4","#68c99b","#86d68a","#abe173","#d5e858","#feed5c"]},"legend":null},
"detail":{"field":"g"}},
"layer":[
{"transform":[{"filter":"datum.z==3"}],"mark":{"type":"area","interpolate":"monotone"}},
{"transform":[{"filter":"datum.z==4"}],"mark":{"type":"area","interpolate":"monotone"}},
{"transform":[{"filter":"datum.z==2"}],"mark":{"type":"area","interpolate":"monotone"}},
{"transform":[{"filter":"datum.z==1"}],"mark":{"type":"area","interpolate":"monotone"}},
{"transform":[{"filter":"datum.z==5"}],"mark":{"type":"area","interpolate":"monotone"}},
{"transform":[{"filter":"datum.z==6"}],"mark":{"type":"area","interpolate":"monotone"}},
{"transform":[{"filter":"datum.z==7"}],"mark":{"type":"area","interpolate":"monotone"}},
{"transform":[{"filter":"datum.z==8"}],"mark":{"type":"area","interpolate":"monotone"}},
{"transform":[{"filter":"datum.z==9"}],"mark":{"type":"area","interpolate":"monotone"}},
{"transform":[{"filter":"datum.z==10"}],"mark":{"type":"area","interpolate":"monotone"}},
{"transform":[{"filter":"datum.z==11"}],"mark":{"type":"area","interpolate":"monotone"}},
{"transform":[{"filter":"datum.z==12"}],"mark":{"type":"area","interpolate":"monotone"}},
{"transform":[{"filter":"datum.z==13"}],"mark":{"type":"area","interpolate":"monotone"}}
]},
{"data":{"name":"gx"},"mark":{"type":"rule","color":"#000000","opacity":0.04,"strokeWidth":1},"encoding":{"x":{"field":"v","type":"quantitative","scale":{"domain":[0.115,0.885],"nice":false,"zero":false},"axis":{"title":"Mixture","values":[0.2,0.3,0.4,0.5,0.6,0.7,0.8],"format":".1f","labelOverlap":false,"labelFlush":false,"tickOpacity":{"condition":{"test":"datum.value==0.3||datum.value==0.5||datum.value==0.7","value":0},"value":1},"labelOpacity":{"condition":{"test":"datum.value==0.3||datum.value==0.5||datum.value==0.7","value":0},"value":1}}}}},
{"data":{"name":"gy"},"mark":{"type":"rule","color":"#000000","opacity":0.04,"strokeWidth":1},"encoding":{"y":{"field":"v","type":"quantitative","scale":{"domain":[0.08725,0.36775],"nice":false,"zero":false},"axis":{"title":"Penalty","values":[0.1,0.15,0.2,0.25,0.3,0.35],"format":".1f","labelOverlap":false,"labelFlush":false,"tickOpacity":{"condition":{"test":"datum.value==0.15||datum.value==0.25||datum.value==0.35","value":0},"value":1},"labelOpacity":{"condition":{"test":"datum.value==0.15||datum.value==0.25||datum.value==0.35","value":0},"value":1}}}}}
]}
]
}
